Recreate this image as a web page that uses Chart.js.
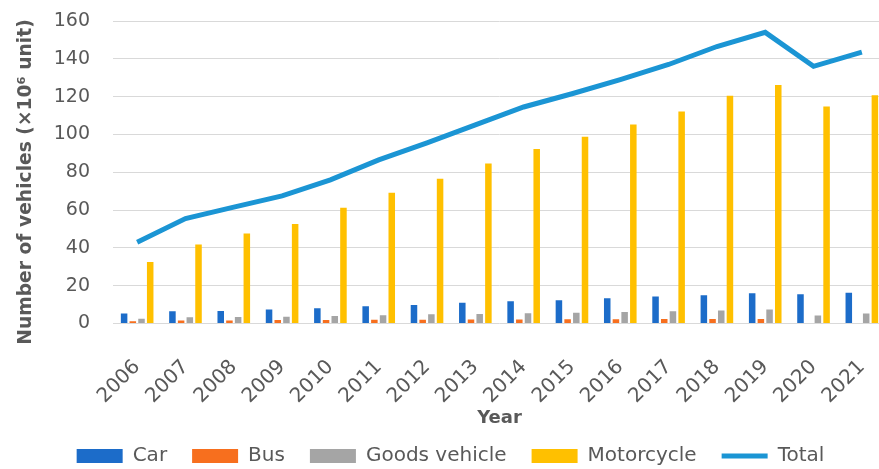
<!DOCTYPE html>
<html>
<head>
<meta charset="utf-8">
<script src="https://cdn.jsdelivr.net/npm/chart.js@4"></script>
<style>
  html, body { margin: 0; padding: 0; background: #fff; overflow: hidden; }
  #wrap { width: 892px; height: 469px; }
</style>
</head>
<body>
<div id="wrap"><canvas id="chart"></canvas></div>
<script>
// data (million units)
const years = ['2006', '2007', '2008', '2009', '2010', '2011', '2012', '2013',
               '2014', '2015', '2016', '2017', '2018', '2019', '2020', '2021'];
const car        = [5.2, 6.4, 6.6, 7.4, 8.1, 9.1, 9.7, 11.0, 11.8, 12.3, 13.3, 14.3, 14.9, 16.0, 15.4, 16.2];
const bus        = [1.2, 1.5, 1.6, 1.8, 1.8, 1.9, 2.0, 2.1, 2.1, 2.2, 2.2, 2.3, 2.3, 2.3, 0, 0];
const goods      = [2.5, 3.3, 3.4, 3.6, 3.9, 4.3, 4.8, 5.0, 5.4, 5.6, 6.1, 6.4, 6.8, 7.4, 4.2, 5.2];
const motorcycle = [32.5, 41.7, 47.6, 52.6, 61.2, 69.2, 76.5, 84.6, 92.3, 98.7, 105.2, 112.1, 120.4, 126.1, 114.8, 120.7];
const total      = [43, 55.5, 61.5, 67.5, 76, 86.5, 95.5, 105, 114.5, 121.5, 129, 137, 146.5, 154, 136, 143.5];
const yTicks     = [0, 20, 40, 60, 80, 100, 120, 140, 160];

const grey = '#595959';
const fontFamily = '"DejaVu Sans", sans-serif';

function barSet(label, data, color) {
    return {
        type: 'bar',
        label: label,
        data: data,
        backgroundColor: color,
        borderWidth: 0,
        categoryPercentage: 0.72,
        barPercentage: 0.75,
        pointStyle: 'rect'
    };
}

new Chart(document.getElementById('chart'), {
    data: {
        labels: years,
        datasets: [
            barSet('Car', car, '#1c6cc9'),
            barSet('Bus', bus, '#f76f1e'),
            barSet('Goods vehicle', goods, '#a5a5a5'),
            barSet('Motorcycle', motorcycle, '#ffc000'),
            {
                type: 'line',
                label: 'Total',
                data: total,
                borderColor: '#1b95d4',
                backgroundColor: '#1b95d4',
                borderWidth: 5,
                pointRadius: 0,
                tension: 0,
                pointStyle: 'line'
            }
        ]
    },
    options: {
        responsive: true,
        maintainAspectRatio: false,
        animation: false,
        layout: { padding: { top: 21, right: 6, left: 15, bottom: -7 } },
        plugins: {
            tooltip: { enabled: false },
            legend: {
                position: 'bottom',
                labels: {
                    usePointStyle: true,
                    pointStyleWidth: 46,
                    boxHeight: 14,
                    padding: 25,
                    color: grey,
                    font: { family: fontFamily, size: 20 }
                }
            }
        },
        scales: {
            x: {
                offset: true,
                grid: { display: false, drawTicks: false },
                border: { display: false },
                ticks: {
                    color: grey,
                    minRotation: 45,
                    maxRotation: 45,
                    padding: 32,
                    font: { family: fontFamily, size: 20 }
                },
                title: {
                    display: true,
                    text: 'Year',
                    color: grey,
                    padding: { top: 4, bottom: -8 },
                    font: { family: fontFamily, size: 18, weight: 'bold' }
                },
                afterFit(axis) {
                    axis.height -= 37;
                    axis.paddingLeft = 0;
                    axis.paddingRight = 0;
                }
            },
            y: {
                min: 0,
                max: 160,
                afterBuildTicks(axis) {
                    axis.ticks = yTicks.map(v => ({ value: v }));
                },
                afterFit(axis) {
                    axis.width = 98;
                    axis.paddingTop = 0;
                    axis.paddingBottom = 0;
                },
                grid: { color: '#d9d9d9', lineWidth: 1, drawTicks: false },
                border: { display: false },
                ticks: {
                    color: grey,
                    padding: 23,
                    font: { family: fontFamily, size: 19 }
                },
                title: {
                    display: true,
                    // trailing spaces push the centred title down a little, as in the original
                    text: 'Number of vehicles (×10⁶ unit)   ',
                    color: grey,
                    padding: { top: 0, bottom: 18 },
                    font: { family: fontFamily, size: 18.7, weight: 'bold' }
                }
            }
        }
    }
});
</script>
</body>
</html>
